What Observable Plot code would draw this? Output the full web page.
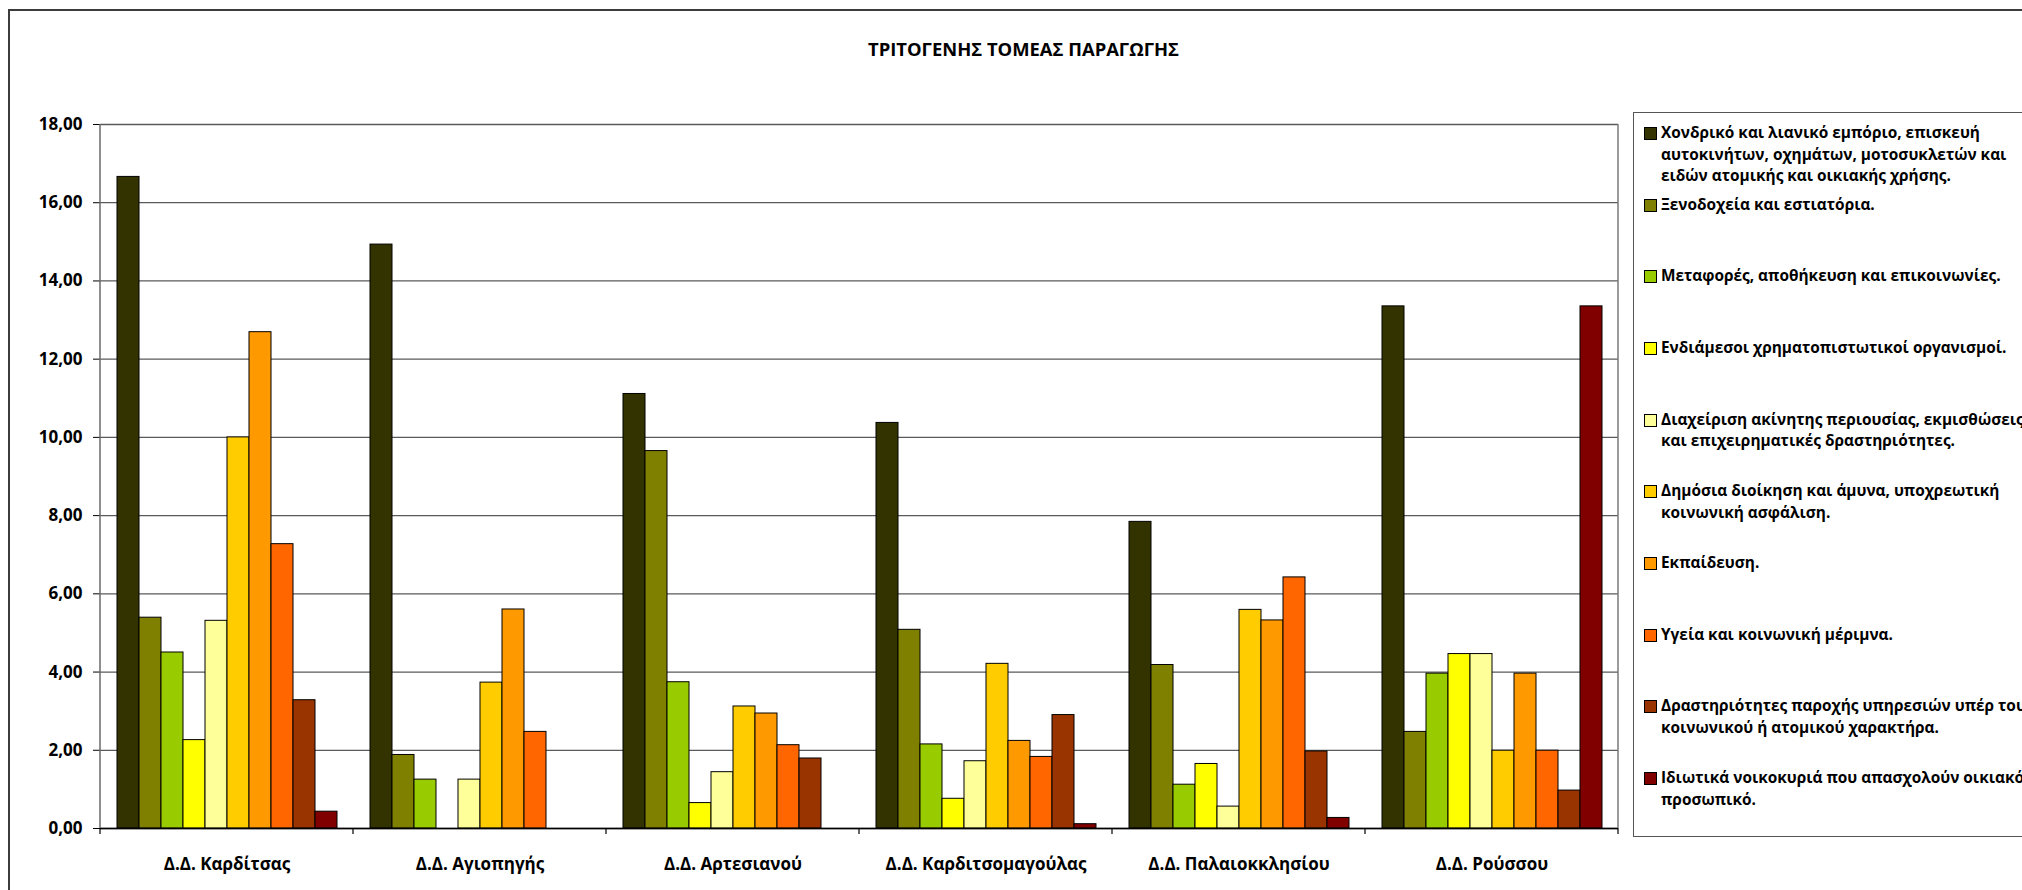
<!DOCTYPE html>
<html>
<head>
<meta charset="utf-8">
<script src="https://cdn.jsdelivr.net/npm/d3@7"></script>
<script src="https://cdn.jsdelivr.net/npm/@observablehq/plot@0.6"></script>
<style>
  html, body { margin: 0; padding: 0; background: #fff; }
  body { width: 2022px; height: 890px; overflow: hidden; font-family: "Open Sans", sans-serif; color: #000; }
  #wrap { position: relative; width: 2022px; height: 890px; overflow: hidden; }
  #frame { position: absolute; left: 8px; top: 9px; width: 2100px; height: 900px; border: 2px solid #3c3c3c; box-sizing: border-box; }
  #chart { position: absolute; left: 0; top: 0; }
  #title { position: absolute; left: 0; width: 2047px; top: 36px; line-height: 26px; text-align: center; font-weight: 700; font-size: 18.4px; white-space: nowrap; }
  #legend { position: absolute; left: 1633px; top: 112px; width: 520px; height: 725px; border: 1.5px solid #555; box-sizing: border-box; padding-top: 9px; }
  .item { position: relative; height: 71.67px; }
  .sw { position: absolute; left: 10px; top: 5px; width: 13px; height: 13px; box-sizing: border-box; border: 1px solid #000; }
  .lab { position: absolute; left: 27px; top: 0; font-weight: 700; font-size: 15.4px; line-height: 21.7px; white-space: pre; }
</style>
</head>
<body>
<div id="wrap">
  <div id="frame"></div>
  <div id="chart"></div>
  <div id="title"></div>
  <div id="legend"></div>
</div>
<script>
const chartTitle = "ΤΡΙΤΟΓΕΝΗΣ ΤΟΜΕΑΣ ΠΑΡΑΓΩΓΗΣ";

const districts = [
  "Δ.Δ. Καρδίτσας",
  "Δ.Δ. Αγιοπηγής",
  "Δ.Δ. Αρτεσιανού",
  "Δ.Δ. Καρδιτσομαγούλας",
  "Δ.Δ. Παλαιοκκλησίου",
  "Δ.Δ. Ρούσσου"
];

const sectors = [
  "Χονδρικό και λιανικό εμπόριο, επισκευή\nαυτοκινήτων, οχημάτων, μοτοσυκλετών και\nειδών ατομικής και οικιακής χρήσης.",
  "Ξενοδοχεία και εστιατόρια.",
  "Μεταφορές, αποθήκευση και επικοινωνίες.",
  "Ενδιάμεσοι χρηματοπιστωτικοί οργανισμοί.",
  "Διαχείριση ακίνητης περιουσίας, εκμισθώσεις\nκαι επιχειρηματικές δραστηριότητες.",
  "Δημόσια διοίκηση και άμυνα, υποχρεωτική\nκοινωνική ασφάλιση.",
  "Εκπαίδευση.",
  "Υγεία και κοινωνική μέριμνα.",
  "Δραστηριότητες παροχής υπηρεσιών υπέρ του\nκοινωνικού ή ατομικού χαρακτήρα.",
  "Ιδιωτικά νοικοκυριά που απασχολούν οικιακό\nπροσωπικό."
];

const sectorColors = ["#333300", "#808000", "#99CC00", "#FFFF00", "#FFFF99", "#FFCC00", "#FF9900", "#FF6600", "#993300", "#800000"];

// values per district, in sector order
const valuesKarditsa        = [16.66, 5.39, 4.50, 2.26, 5.31, 10.00, 12.69, 7.27, 3.28, 0.43];
const valuesAgiopigi        = [14.93, 1.88, 1.25, 0.00, 1.25, 3.73, 5.60, 2.47, 0.00, 0.00];
const valuesArtesiano       = [11.11, 9.65, 3.74, 0.65, 1.44, 3.12, 2.94, 2.13, 1.79, 0.00];
const valuesKarditsomagoula = [10.37, 5.08, 2.15, 0.76, 1.72, 4.21, 2.24, 1.83, 2.90, 0.11];
const valuesPalaiokklisi    = [7.84, 4.18, 1.12, 1.65, 0.56, 5.59, 5.32, 6.42, 1.97, 0.27];
const valuesRoussou         = [13.35, 2.47, 3.96, 4.46, 4.46, 1.99, 3.96, 1.99, 0.97, 13.35];

const yTicks = [0, 2, 4, 6, 8, 10, 12, 14, 16, 18];

const seriesByDistrict = [valuesKarditsa, valuesAgiopigi, valuesArtesiano, valuesKarditsomagoula, valuesPalaiokklisi, valuesRoussou];
const data = [];
districts.forEach((d, i) => {
  seriesByDistrict[i].forEach((v, j) => {
    if (v > 0) data.push({district: d, sector: sectors[j], value: v});
  });
});

document.getElementById("title").textContent = chartTitle;

const chart = Plot.plot({
  width: 2022,
  height: 890,
  marginLeft: 98,
  marginRight: 402,
  marginTop: 124,
  marginBottom: 62,
  style: {fontFamily: "'Open Sans', sans-serif", fontSize: "17px", fontWeight: "700", color: "#000", background: "transparent", overflow: "visible"},
  facet: {data, x: "district"},
  fx: {domain: districts, padding: 0, label: null, axis: "bottom", tickSize: 0, tickPadding: 29},
  x: {domain: sectors, axis: null, paddingInner: 0, paddingOuter: 0.75},
  y: {domain: [0, 18], ticks: yTicks, tickFormat: d => d.toFixed(2).replace(".", ","), label: null, tickSize: 7, tickPadding: 11},
  color: {domain: sectors, range: sectorColors},
  marks: [
    Plot.ruleY(yTicks, {stroke: "#5a5a5a", strokeWidth: 1.3}),
    Plot.barY(data, {x: "sector", y: "value", fill: "sector", stroke: "#000", strokeWidth: 1}),
    Plot.ruleY([0], {stroke: "#000", strokeWidth: 1.5})
  ]
});

// plot-area borders and category boundary ticks, positioned through the chart's own scales
const fxOpt = chart.scale("fx");
const yOpt = chart.scale("y");
const fxBand = d3.scaleBand().domain(fxOpt.domain).range(fxOpt.range)
  .paddingInner(fxOpt.paddingInner || 0).paddingOuter(fxOpt.paddingOuter || 0)
  .align(fxOpt.align == null ? 0.5 : fxOpt.align).round(!!fxOpt.round);
const yLin = d3.scaleLinear().domain(yOpt.domain).range(yOpt.range);
const bounds = fxOpt.domain.map(d => fxBand(d));
bounds.push(fxBand(fxOpt.domain[fxOpt.domain.length - 1]) + fxBand.bandwidth());
const g = d3.select(chart).append("g");
const y0 = yLin(0), yTop = yLin(d3.max(yTicks));
g.append("line").attr("x1", bounds[0]).attr("x2", bounds[0]).attr("y1", yTop).attr("y2", y0).attr("stroke", "#6a6a6a").attr("stroke-width", 1.5);
g.append("line").attr("x1", bounds[bounds.length - 1]).attr("x2", bounds[bounds.length - 1]).attr("y1", yTop).attr("y2", y0).attr("stroke", "#7a7a7a").attr("stroke-width", 1.5);
g.selectAll("line.bt").data(bounds).join("line").attr("class", "bt")
  .attr("x1", d => d).attr("x2", d => d).attr("y1", y0).attr("y2", y0 + 6)
  .attr("stroke", "#000").attr("stroke-width", 1.2);

document.getElementById("chart").appendChild(chart);

// legend
const legend = d3.select("#legend");
sectors.forEach((s, i) => {
  const it = legend.append("div").attr("class", "item");
  it.append("div").attr("class", "sw").style("background", sectorColors[i]);
  it.append("div").attr("class", "lab").text(s);
});
</script>
</body>
</html>
